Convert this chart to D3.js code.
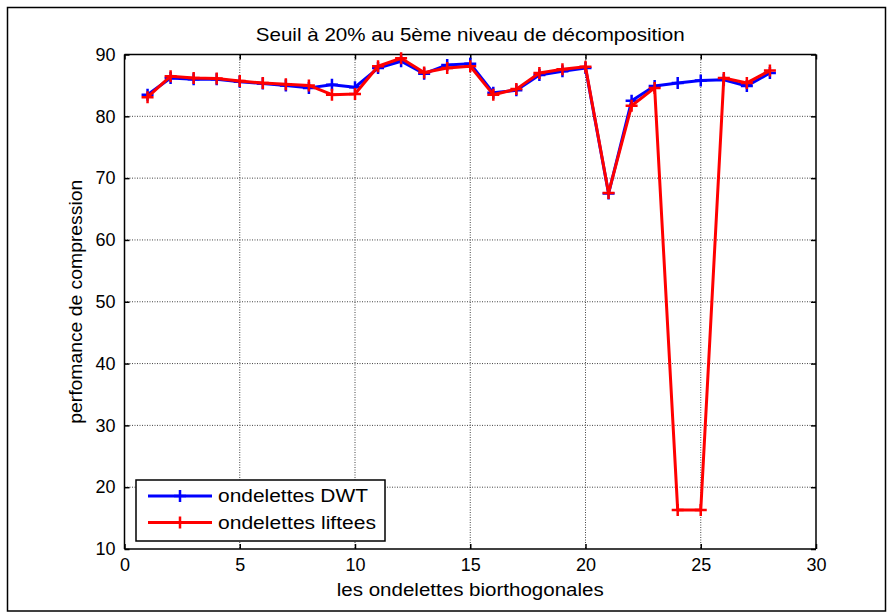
<!DOCTYPE html>
<html><head><meta charset="utf-8">
<script src="https://cdn.jsdelivr.net/npm/d3@7"></script>
<style>body{margin:0;background:#fff}svg text{font-family:"Liberation Sans",Arial,sans-serif;fill:#000}</style>
</head><body><svg id="c" width="888" height="613"></svg>
<script>
const xValues = [1,2,3,4,5,6,7,8,9,10,11,12,13,14,15,16,17,18,19,20,21,22,23,24,25,26,27,28];
const dwtValues = [83.5,86.2,86.0,86.0,85.6,85.3,85.0,84.6,85.1,84.7,87.8,88.9,86.9,88.3,88.5,83.8,84.2,86.7,87.3,87.8,67.5,82.5,84.9,85.4,85.8,85.9,84.9,87.0];
const liftValues = [83.1,86.5,86.2,86.1,85.7,85.4,85.2,85.0,83.5,83.6,88.1,89.4,87.1,87.8,88.1,83.5,84.4,87.0,87.6,88.0,67.6,81.7,84.6,16.3,16.3,86.2,85.4,87.4];
const xTicks = [0,5,10,15,20,25,30];
const yTicks = [10,20,30,40,50,60,70,80,90];
const seriesNames = ["ondelettes DWT","ondelettes liftees"];
const seriesColors = ["#0000ff","#ff0000"];
const titleText = "Seuil à 20% au 5ème niveau de décomposition";
const xLabel = "les ondelettes biorthogonales";
const yLabel = "perfomance de compression";

const svg = d3.select("#c");
const L=124.5, R=816, T=54.5, B=549;
const x = d3.scaleLinear().domain([0,30]).range([L,R]);
const y = d3.scaleLinear().domain([10,90]).range([B,T]);

// outer frame
svg.append("rect").attr("x",7.5).attr("y",7.5).attr("width",878).attr("height",603.5)
  .attr("fill","#fff").attr("stroke","#000").attr("stroke-width",1.5);
svg.append("rect").attr("x",L).attr("y",T).attr("width",R-L).attr("height",B-T).attr("fill","#fff");

// grid
const g = svg.append("g");
g.selectAll(".gx").data(xTicks.slice(1,-1)).join("line")
  .attr("x1",d=>x(d)).attr("x2",d=>x(d)).attr("y1",T).attr("y2",B)
  .attr("stroke","#444").attr("stroke-width",1).attr("stroke-dasharray","1,1.5");
g.selectAll(".gy").data(yTicks.slice(1,-1)).join("line")
  .attr("y1",d=>y(d)).attr("y2",d=>y(d)).attr("x1",L).attr("x2",R)
  .attr("stroke","#444").attr("stroke-width",1).attr("stroke-dasharray","1,1.5");

// axes with inner ticks
const axB = d3.axisBottom(x).tickValues(xTicks).tickSize(-5).tickPadding(9).tickFormat(d3.format("d"));
const axT = d3.axisTop(x).tickValues(xTicks).tickSize(-5).tickFormat("");
const axL = d3.axisLeft(y).tickValues(yTicks).tickSize(-5).tickPadding(9).tickFormat(d3.format("d"));
const axR = d3.axisRight(y).tickValues(yTicks).tickSize(-5).tickFormat("");
function style(sel){ sel.selectAll("path").attr("stroke","#000").attr("stroke-width",1.5);
  sel.selectAll("line").attr("stroke","#000").attr("stroke-width",1.5);
  sel.selectAll("text").attr("font-size",18).attr("font-family","Liberation Sans, Arial, sans-serif").attr("fill","#000"); }
svg.append("g").attr("transform",`translate(0,${B})`).call(axB).call(style).call(s=>s.selectAll("path").attr("d",`M${L},0H${R}`));
svg.append("g").attr("transform",`translate(0,${T})`).call(axT).call(style).call(s=>s.selectAll("path").attr("d",`M${L},0H${R}`));
svg.append("g").attr("transform",`translate(${L},0)`).call(axL).call(style).call(s=>s.selectAll("path").attr("d",`M0,${T}V${B}`));
svg.append("g").attr("transform",`translate(${R},0)`).call(axR).call(style).call(s=>s.selectAll("path").attr("d",`M0,${T}V${B}`));

// series
const series = [dwtValues, liftValues];
const line = d3.line().x((d,i)=>x(xValues[i])).y(d=>y(d));
const M = 6;
series.forEach((vals,k)=>{
  const c = seriesColors[k];
  svg.append("path").attr("d",line(vals)).attr("fill","none").attr("stroke",c)
    .attr("stroke-width",3).attr("stroke-linejoin","round");
  const mk = svg.append("g");
  vals.forEach((v,i)=>{
    const px=x(xValues[i]), py=y(v);
    mk.append("path").attr("d",`M${px-M},${py}H${px+M}M${px},${py-M}V${py+M}`)
      .attr("stroke",c).attr("stroke-width",2.5);
  });
});

// title & labels
svg.append("text").attr("x",(L+R)/2).attr("y",41).attr("text-anchor","middle")
  .attr("font-size",19).attr("textLength",429).attr("lengthAdjust","spacingAndGlyphs").text(titleText);
svg.append("text").attr("x",(L+R)/2).attr("y",596).attr("text-anchor","middle")
  .attr("font-size",17.5).attr("textLength",267).attr("lengthAdjust","spacingAndGlyphs").text(xLabel);
svg.append("text").attr("transform",`translate(82,${(T+B)/2}) rotate(-90)`).attr("text-anchor","middle")
  .attr("font-size",17.5).attr("textLength",244).attr("lengthAdjust","spacingAndGlyphs").text(yLabel);

// legend
const lg = svg.append("g");
lg.append("rect").attr("x",136).attr("y",480).attr("width",249).attr("height",61)
  .attr("fill","#fff").attr("stroke","#000").attr("stroke-width",1.5);
const legW = [150, 158];
seriesNames.forEach((n,k)=>{
  const ly = 496 + k*26.5;
  lg.append("line").attr("x1",148).attr("x2",212).attr("y1",ly).attr("y2",ly)
    .attr("stroke",seriesColors[k]).attr("stroke-width",3);
  lg.append("path").attr("d",`M${180-M},${ly}H${180+M}M180,${ly-M}V${ly+M}`)
    .attr("stroke",seriesColors[k]).attr("stroke-width",2.5);
  lg.append("text").attr("x",218).attr("y",ly+6).attr("font-size",17.5)
    .attr("textLength",legW[k]).attr("lengthAdjust","spacingAndGlyphs").text(n);
});
</script></body></html>
